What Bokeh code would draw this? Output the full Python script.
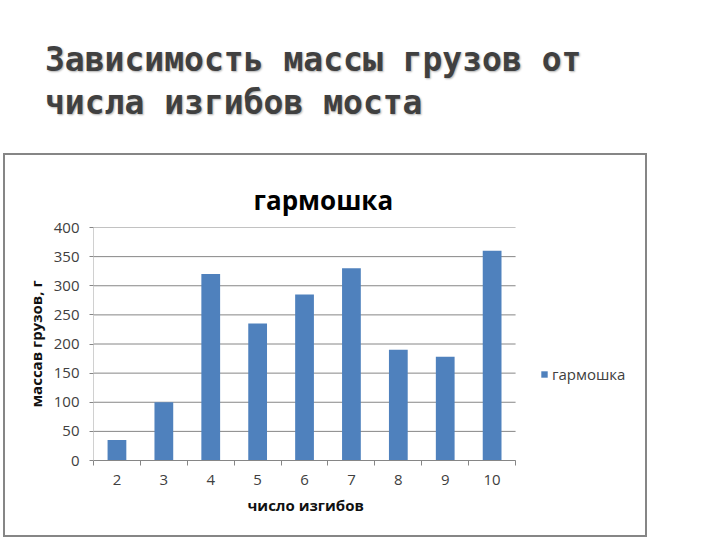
from bokeh.plotting import figure
from bokeh.models import Legend, LegendItem, FixedTicker, Range1d, Div, Title
from bokeh.layouts import column
from bokeh.embed import file_html
from bokeh.resources import INLINE

# ---- data ----
categories = [2, 3, 4, 5, 6, 7, 8, 9, 10]
masses = [35, 100, 320, 235, 285, 330, 190, 178, 360]
y_ticks = [0, 50, 100, 150, 200, 250, 300, 350, 400]
slide_title_lines = ["Зависимость массы грузов от", "числа изгибов моста"]
chart_title = "гармошка"
series_name = "гармошка"
x_label = "число изгибов"
y_label = "массав грузов, г"

BAR = "#4f81bd"
GRID = "#868686"
TXT = "#404040"

# ---- slide title ----
title_html = (
    '<div style="position:relative; left:40px; top:33px; '
    "font-family:'DejaVu Sans Mono'; font-weight:bold; font-size:33px; "
    'line-height:43px; color:#404040; white-space:nowrap; '
    'text-shadow:1px 1px 2px #b0b0b0;">'
    + "<br>".join(slide_title_lines) + "</div>"
)
head = Div(text=title_html, width=640, height=143)

# ---- chart (the bordered box) ----
FL, FRW, FT, FBW = 88, 6, 72, 79   # panel sizes
PLOT_W = 419                        # width of the bar area
FW, FH = 546, 229                   # frame size (bar area + legend area)

x0 = min(categories) - 0.5
x1 = max(categories) + 0.5
x_end = x0 + (x1 - x0) * FW / PLOT_W

p = figure(frame_width=FW, frame_height=FH, output_backend="svg", toolbar_location=None,
           x_range=Range1d(x0, x_end),
           y_range=Range1d(min(y_ticks), max(y_ticks)),
           min_border_left=FL, min_border_right=FRW,
           min_border_top=FT, min_border_bottom=FBW,
           title=chart_title,
           styles={"border": "2px solid #868686", "margin-left": "3px"})
p.outline_line_color = None
p.background_fill_color = "white"
p.border_fill_color = "white"

p.title.text_font = "Open Sans"
p.title.text_font_style = "bold"
p.title.text_font_size = "26px"
p.title.text_line_height = 0.9
p.title.text_color = "#000000"
p.title.align = "left"
p.title.offset = 160
p.title.standoff = 20

# grid lines only across the bar area
p.xgrid.grid_line_color = None
p.ygrid.grid_line_color = None
p.segment(x0=[x0] * len(y_ticks), x1=[x1] * len(y_ticks), y0=y_ticks, y1=y_ticks,
          line_color=GRID, line_width=1, level="underlay")

# y axis
ya = p.yaxis[0]
ya.ticker = FixedTicker(ticks=y_ticks)
ya.axis_line_color = "#d0d0d0"
ya.major_tick_line_color = GRID
ya.major_tick_out = 4
ya.major_tick_in = 0
ya.minor_tick_line_color = None
ya.major_label_standoff = 10
ya.major_label_text_font = "Open Sans"
ya.major_label_text_font_size = "15px"
ya.major_label_text_color = TXT
ya.axis_label = y_label
ya.axis_label_text_font = "Open Sans"
ya.axis_label_text_font_style = "bold"
ya.axis_label_text_font_size = "15px"
ya.axis_label_text_color = "#111111"
ya.axis_label_standoff = 5

# x axis
xa = p.xaxis[0]
edges = [c - 0.5 for c in categories] + [categories[-1] + 0.5]
xa.ticker = FixedTicker(ticks=categories, minor_ticks=edges)
xa.bounds = (x0, x1)
xa.axis_line_color = GRID
xa.major_tick_line_color = None
xa.major_tick_out = 0
xa.major_tick_in = 0
xa.minor_tick_line_color = GRID
xa.minor_tick_out = 5
xa.minor_tick_in = 0
xa.major_label_standoff = 9
xa.major_label_text_font = "Open Sans"
xa.major_label_text_font_size = "15px"
xa.major_label_text_color = TXT

# x axis title, centred under the bar area
p.add_layout(Title(text=x_label, align="left", offset=154, standoff=10,
                   text_font="Open Sans", text_font_style="bold",
                   text_font_size="15px", text_color="#111111"), "below")

# bars
r = p.vbar(x=categories, top=masses, bottom=0, width=0.4,
           fill_color=BAR, line_color=None)

# legend inside the frame, right of the bars
legend = Legend(items=[LegendItem(label=series_name, renderers=[r])],
                location=(447, 76),
                glyph_width=8, glyph_height=8, label_height=14,
                label_standoff=4, padding=0, margin=0, spacing=0,
                border_line_color=None, background_fill_alpha=0,
                label_text_font="Open Sans", label_text_font_size="15px",
                label_text_color=TXT)
p.add_layout(legend, "center")

layout = column(head, p, spacing=0)
open("out.html", "w").write(file_html(layout, INLINE))
